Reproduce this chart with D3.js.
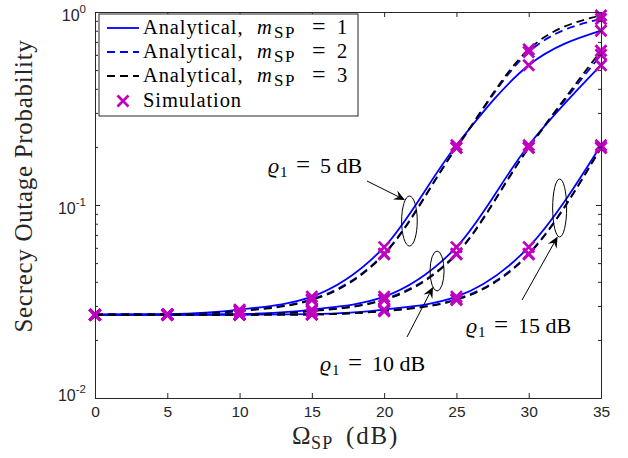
<!DOCTYPE html>
<html><head><meta charset="utf-8">
<script src="https://cdn.jsdelivr.net/npm/d3@7"></script>
<style>body{margin:0;background:#fff} svg{display:block}</style>
</head><body><svg id="c" width="628" height="458"></svg>
<script>
// ---------- data ----------
const xValues = [0, 5, 10, 15, 20, 25, 30, 35];
// rho1 = 5 dB
const rho5_m1 = [0.0270, 0.0272, 0.0287, 0.0335, 0.0605, 0.204, 0.530, 0.800];
const rho5_m2 = [0.0270, 0.0271, 0.0283, 0.0325, 0.0560, 0.198, 0.620, 0.920];
const rho5_m3 = [0.0270, 0.0271, 0.0282, 0.0322, 0.0555, 0.198, 0.640, 0.960];
// rho1 = 10 dB
const rho10_m1 = [0.0270, 0.0270, 0.0272, 0.0287, 0.0335, 0.0605, 0.204, 0.530];
const rho10_m2 = [0.0270, 0.0270, 0.0271, 0.0283, 0.0325, 0.0560, 0.198, 0.600];
const rho10_m3 = [0.0270, 0.0270, 0.0271, 0.0282, 0.0322, 0.0555, 0.198, 0.630];
// rho1 = 15 dB
const rho15_m1 = [0.0270, 0.0270, 0.0270, 0.0272, 0.0287, 0.0335, 0.0605, 0.204];
const rho15_m2 = [0.0270, 0.0270, 0.0270, 0.0271, 0.0283, 0.0325, 0.0560, 0.198];
const rho15_m3 = [0.0270, 0.0270, 0.0270, 0.0271, 0.0282, 0.0322, 0.0555, 0.198];

const xTicks = [0, 5, 10, 15, 20, 25, 30, 35];
const yTicks = [0.01, 0.1, 1];
const yTickExponents = ["-2", "-1", "0"];
const mValues = ["1", "2", "3"];
const rhoLabels = ["5", "10", "15"];

// ---------- setup ----------
const W = 628, H = 458;
const svg = d3.select("#c");
const x = d3.scaleLinear().domain([0, 35]).range([95, 601]);
const y = d3.scaleLog().domain([0.01, 1]).range([398, 12]);
const axisColor = "#262626";
const serif = "'Liberation Serif', 'Times New Roman', serif";
const sans = "'Liberation Sans', Arial, Helvetica, sans-serif";
const magenta = "#bf00bf";

svg.append("rect").attr("width", W).attr("height", H).attr("fill", "#fff");

const styles = [
  {color: "#0000ff", dash: null},
  {color: "#0000ff", dash: "8,5"},
  {color: "#000000", dash: "8,5"}
];
const groups = [
  [rho5_m1, rho5_m2, rho5_m3],
  [rho10_m1, rho10_m2, rho10_m3],
  [rho15_m1, rho15_m2, rho15_m3]
];

const line = d3.line()
  .x((d, i) => x(xValues[i]))
  .y(d => y(d))
  .curve(d3.curveMonotoneX);

const plot = svg.append("g");
groups.forEach(g => {
  g.forEach((vals, k) => {
    plot.append("path")
      .datum(vals)
      .attr("d", line)
      .attr("fill", "none")
      .attr("stroke", styles[k].color)
      .attr("stroke-width", 1.8)
      .attr("stroke-dasharray", styles[k].dash);
  });
});
const xMark = "M-5.5,-5.5L5.5,5.5M-5.5,5.5L5.5,-5.5";
groups.forEach(g => {
  g.forEach(vals => {
    plot.selectAll(null).data(vals).enter().append("path")
      .attr("d", xMark)
      .attr("transform", (d, i) => `translate(${x(xValues[i])},${y(d)})`)
      .attr("fill", "none")
      .attr("stroke", magenta)
      .attr("stroke-width", 2.7);
  });
});

// ---------- axes ----------
function styleAxis(g) {
  g.selectAll("path.domain").attr("stroke", axisColor).attr("stroke-width", 1);
  g.selectAll(".tick line").attr("stroke", axisColor).attr("stroke-width", 1);
  g.selectAll(".tick text").attr("fill", axisColor).attr("font-family", sans).attr("font-size", 15.5);
}
const minor = [];
[-2, -1].forEach(e => { for (let k = 2; k <= 9; k++) minor.push(k * Math.pow(10, e)); });

svg.append("g").attr("transform", "translate(0,398)")
  .call(d3.axisBottom(x).tickValues(xTicks).tickSizeInner(-5).tickSizeOuter(0).tickPadding(8).tickFormat(d3.format("d")))
  .call(styleAxis);
svg.append("g").attr("transform", "translate(0,12)")
  .call(d3.axisTop(x).tickValues(xTicks).tickSizeInner(-5).tickSizeOuter(0).tickFormat(""))
  .call(styleAxis);
svg.append("g").attr("transform", "translate(95,0)")
  .call(d3.axisLeft(y).tickValues(yTicks).tickSizeInner(-5).tickSizeOuter(0).tickFormat(""))
  .call(styleAxis);
svg.append("g").attr("transform", "translate(95,0)")
  .call(d3.axisLeft(y).tickValues(minor).tickSizeInner(-3).tickSizeOuter(0).tickFormat(""))
  .call(styleAxis);
svg.append("g").attr("transform", "translate(601,0)")
  .call(d3.axisRight(y).tickValues(yTicks).tickSizeInner(-5).tickSizeOuter(0).tickFormat(""))
  .call(styleAxis);
svg.append("g").attr("transform", "translate(601,0)")
  .call(d3.axisRight(y).tickValues(minor).tickSizeInner(-3).tickSizeOuter(0).tickFormat(""))
  .call(styleAxis);

// y tick labels 10^n
yTicks.forEach((v, i) => {
  const t = svg.append("text")
    .attr("x", 86).attr("y", y(v) + (i === 0 ? 3 : 9))
    .attr("text-anchor", "end")
    .attr("font-family", sans).attr("font-size", 16).attr("fill", axisColor);
  t.append("tspan").text("10");
  t.append("tspan").attr("dy", -8).attr("font-size", 11.5).text(yTickExponents[i]);
});

// axis titles
const xt = svg.append("text")
  .attr("y", 444)
  .attr("font-family", serif).attr("font-size", 25).attr("fill", axisColor);
xt.append("tspan").attr("x", 292).text("Ω");
xt.append("tspan").attr("x", 311).attr("font-size", 18).attr("dy", 5).attr("letter-spacing", 1.2).text("SP");
xt.append("tspan").attr("x", 346).attr("dy", -5).attr("letter-spacing", 1.8).text("(dB)");

svg.append("text")
  .attr("transform", `translate(32,${186}) rotate(-90)`)
  .attr("text-anchor", "middle")
  .attr("font-family", serif).attr("font-size", 25).attr("letter-spacing", 0.7)
  .attr("fill", axisColor)
  .text("Secrecy Outage Probability");

// ---------- annotations ----------
const annotations = [
  {label: rhoLabels[0], tx: 11.97, ty: 0.1466, ex: 21.75, ey: 0.0826, rx: 7.8, ry: 25,
   ax0: 18.81, ay0: 0.1332, ax1: 21.44, ay1: 0.1062},
  {label: rhoLabels[1], tx: 15.56, ty: 0.0138, ex: 23.66, ey: 0.0455, rx: 7, ry: 20,
   ax0: 21.58, ay0: 0.0207, ax1: 23.38, ay1: 0.0376},
  {label: rhoLabels[2], tx: 25.66, ty: 0.0217, ex: 32.14, ey: 0.0965, rx: 7, ry: 29,
   ax0: 29.54, ay0: 0.0322, ax1: 32.0, ay1: 0.0686}
];
const ann = svg.append("g");
annotations.forEach(a => {
  ann.append("ellipse")
    .attr("cx", x(a.ex)).attr("cy", y(a.ey)).attr("rx", a.rx).attr("ry", a.ry)
    .attr("fill", "none").attr("stroke", "#000").attr("stroke-width", 1);
  const x0 = x(a.ax0), y0 = y(a.ay0), x1 = x(a.ax1), y1 = y(a.ay1);
  const dx = x1 - x0, dy = y1 - y0, L = Math.hypot(dx, dy);
  const ux = dx / L, uy = dy / L, px = -uy, py = ux;
  const hl = 11, hw = 5, notch = 7;
  ann.append("line").attr("x1", x0).attr("y1", y0)
    .attr("x2", x1 - ux * notch).attr("y2", y1 - uy * notch)
    .attr("stroke", "#000").attr("stroke-width", 1);
  const pts = [
    [x1, y1],
    [x1 - ux * hl + px * hw, y1 - uy * hl + py * hw],
    [x1 - ux * notch, y1 - uy * notch],
    [x1 - ux * hl - px * hw, y1 - uy * hl - py * hw]
  ];
  ann.append("path").attr("d", "M" + pts.map(p => p.join(",")).join("L") + "Z").attr("fill", "#000");
  const sx = x(a.tx);
  const t = ann.append("text")
    .attr("y", y(a.ty))
    .attr("font-family", serif).attr("font-size", 22).attr("fill", "#000");
  t.append("tspan").attr("x", sx).attr("font-style", "italic").text("ϱ");
  t.append("tspan").attr("x", sx + 12).attr("font-size", 15).attr("dy", 4).text("1");
  t.append("tspan").attr("x", sx + 28).attr("dy", -4).attr("font-size", 25).text("=");
  t.append("tspan").attr("x", sx + 52).text(a.label + " dB");
});

// ---------- legend ----------
const lg = svg.append("g");
lg.append("rect").attr("x", 99).attr("y", 14).attr("width", 259).attr("height", 102)
  .attr("fill", "#fff").attr("stroke", axisColor).attr("stroke-width", 1);
const rowsY = [28, 52, 76, 101];
styles.forEach((s, k) => {
  lg.append("line").attr("x1", 107).attr("x2", 139).attr("y1", rowsY[k]).attr("y2", rowsY[k])
    .attr("stroke", s.color).attr("stroke-width", 1.8).attr("stroke-dasharray", s.dash);
  const t = lg.append("text").attr("y", rowsY[k] + 6)
    .attr("font-family", serif).attr("font-size", 20.5).attr("fill", "#000");
  t.append("tspan").attr("x", 143).attr("letter-spacing", 0.9).text("Analytical,");
  t.append("tspan").attr("x", 257).attr("font-style", "italic").text("m");
  t.append("tspan").attr("x", 274).attr("font-size", 17).attr("dy", 4).attr("letter-spacing", 1.5).text("SP");
  t.append("tspan").attr("x", 312).attr("dy", -4).attr("font-size", 24).text("=");
  t.append("tspan").attr("x", 337).text(mValues[k]);
});
lg.append("path").attr("d", xMark).attr("transform", `translate(123,${rowsY[3]})`)
  .attr("fill", "none").attr("stroke", magenta).attr("stroke-width", 2.7);
lg.append("text").attr("x", 143).attr("y", rowsY[3] + 6)
  .attr("font-family", serif).attr("font-size", 20.5).attr("letter-spacing", 0.9).attr("fill", "#000")
  .text("Simulation");
</script>
</body></html>
